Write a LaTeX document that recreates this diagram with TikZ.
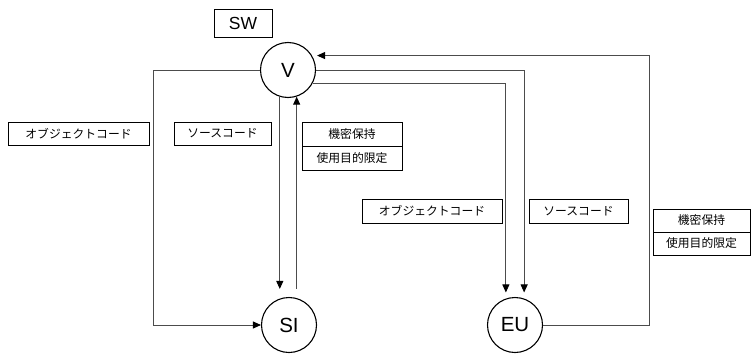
\documentclass[tikz,border=0pt]{standalone}
\usepackage{fontspec}
\setmainfont{Liberation Sans}
\newfontfamily\jp{Noto Sans CJK JP}
\usetikzlibrary{arrows.meta,calc}
\begin{document}
\begin{tikzpicture}[x=1pt,y=-1pt,
  st/.style={circle,draw,line width=1.1pt,minimum size=55pt,inner sep=0pt,font=\fontsize{20.5}{20.5}\selectfont},
  lbl/.style={draw,line width=0.8pt,inner sep=0pt,font=\jp\fontsize{11.8}{11.8}\selectfont},
  conn/.style={draw=black!70,line width=0.9pt},
  arr/.style={conn,-{Triangle[length=8pt,width=7pt,color=black]}}]
\useasboundingbox (0,0) rectangle (751,353);
% states
\node[st] (V) at (288,70) {V};
\node[st] (SI) at (289,325) {SI};
\node[st] (EU) at (515,325) {EU};
\node[draw,line width=1pt,minimum width=58pt,minimum height=28pt,inner sep=0pt,font=\fontsize{17.5}{17.5}\selectfont] (SW) at (243,23.5) {SW};
% labels
\node[lbl,minimum width=141pt,minimum height=23pt] (objL) at (78.5,134) {オブジェクトコード};
\node[lbl,minimum width=97pt,minimum height=23pt] (srcL) at (222.5,133.5) {ソースコード};
\node[lbl,minimum width=100pt,minimum height=24pt] (secV) at (352,134) {機密保持};
\node[lbl,minimum width=100pt,minimum height=24pt] (useV) at (352,158) {使用目的限定};
\node[lbl,minimum width=140pt,minimum height=24pt] (objC) at (432,211) {オブジェクトコード};
\node[lbl,minimum width=99pt,minimum height=24pt] (srcC) at (578.5,211) {ソースコード};
\node[lbl,minimum width=97pt,minimum height=23pt] (secR) at (701.5,220.5) {機密保持};
\node[lbl,minimum width=97pt,minimum height=23pt] (useR) at (701.5,243.5) {使用目的限定};
% connectors
\coordinate (L) at (153,0);
\coordinate (R2) at (649,0);
\draw[arr] (V.west) -- (V.west -| L) |- (SI.west);
\draw[arr,shorten >=8pt] (V.253) -- (V.253 |- SI.north);
\draw[arr,shorten <=8pt] (V.288 |- SI.north) -- (V.288);
\draw[arr,shorten >=6pt] (V.east) -| (EU.71);
\draw[arr,shorten >=6pt] (V.-28.8) -| (EU.109);
\draw[arr,shorten >=5pt] (EU.east) -- (EU.east -| R2) |- (V.31);
\end{tikzpicture}
\end{document}
